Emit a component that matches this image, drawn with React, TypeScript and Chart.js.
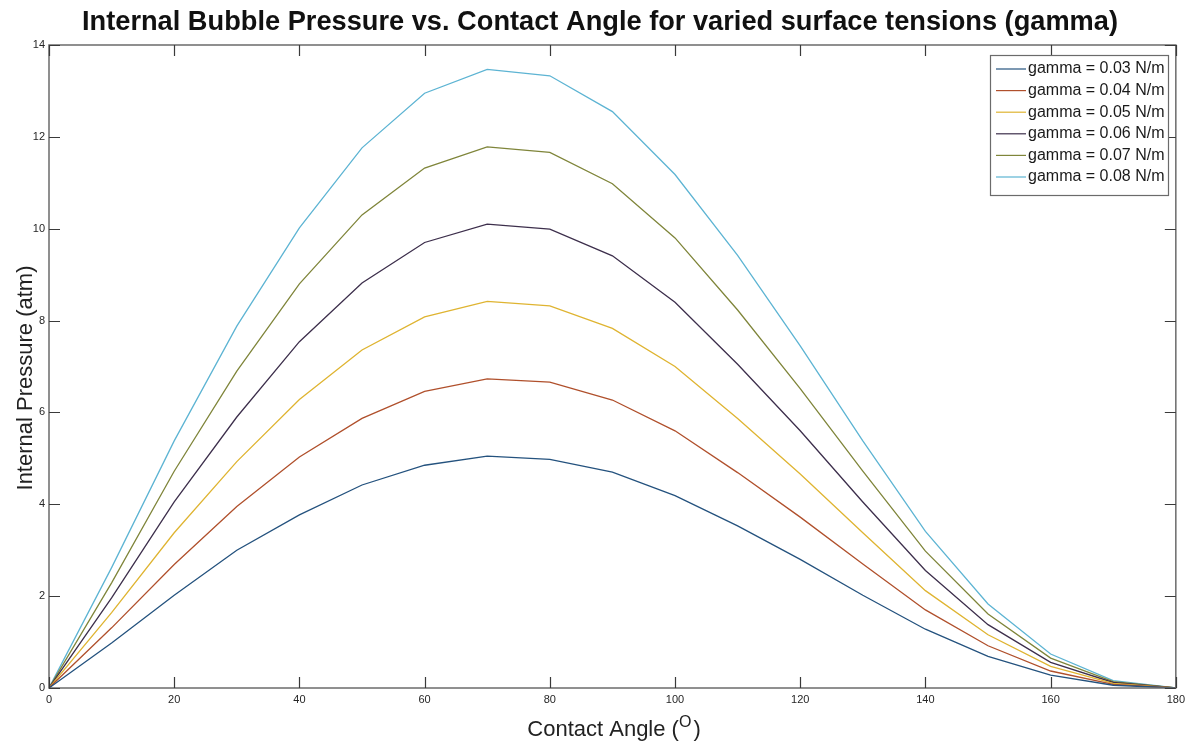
import React, { useEffect, useRef } from "react";
import { Chart, registerables } from "chart.js";

Chart.register(...registerables);

const angles = [0, 10, 20, 30, 40, 50, 60, 70, 80, 90, 100, 110, 120, 130, 140, 150, 160, 170, 180];
const gamma003 = [0, 0.98, 2.02, 3.0, 3.77, 4.42, 4.85, 5.05, 4.98, 4.7, 4.19, 3.53, 2.8, 2.02, 1.28, 0.69, 0.28, 0.06, 0];
const gamma004 = [0, 1.31, 2.69, 3.95, 5.03, 5.87, 6.46, 6.73, 6.66, 6.27, 5.6, 4.69, 3.72, 2.7, 1.7, 0.92, 0.37, 0.08, 0];
const gamma005 = [0, 1.64, 3.38, 4.93, 6.28, 7.36, 8.08, 8.42, 8.32, 7.83, 7.0, 5.87, 4.66, 3.38, 2.12, 1.16, 0.47, 0.1, 0];
const gamma006 = [0, 1.96, 4.05, 5.9, 7.54, 8.82, 9.7, 10.1, 9.99, 9.41, 8.4, 7.05, 5.6, 4.05, 2.56, 1.38, 0.56, 0.12, 0];
const gamma007 = [0, 2.29, 4.72, 6.9, 8.8, 10.3, 11.32, 11.78, 11.66, 10.98, 9.8, 8.23, 6.52, 4.72, 2.98, 1.61, 0.65, 0.14, 0];
const gamma008 = [0, 2.62, 5.38, 7.88, 10.02, 11.76, 12.95, 13.47, 13.33, 12.55, 11.18, 9.42, 7.45, 5.38, 3.41, 1.83, 0.74, 0.16, 0];

const seriesLabels = [
  "gamma = 0.03 N/m",
  "gamma = 0.04 N/m",
  "gamma = 0.05 N/m",
  "gamma = 0.06 N/m",
  "gamma = 0.07 N/m",
  "gamma = 0.08 N/m",
];
const seriesValues = [gamma003, gamma004, gamma005, gamma006, gamma007, gamma008];
const seriesColors = ["#24527e", "#b0502c", "#dfb431", "#3d2f4c", "#7f853a", "#5db4d3"];

const xTicks = [0, 20, 40, 60, 80, 100, 120, 140, 160, 180];
const yTicks = [0, 2, 4, 6, 8, 10, 12, 14];

const titleText = "Internal Bubble Pressure vs. Contact Angle for varied surface tensions (gamma)";
const xTitleMain = "Contact Angle (";
const xTitleSup = "O";
const xTitleEnd = ")";
const yTitleText = "Internal Pressure (atm)";

const FONT = "'Liberation Sans', Arial, Helvetica, sans-serif";

const decorPlugin = {
  id: "decor",
  afterDraw(chart: any) {
    const ctx = chart.ctx;
    const area = chart.chartArea;
    const xs = chart.scales.x;
    const ys = chart.scales.y;
    ctx.save();
    // frame
    ctx.strokeStyle = "#6b6b6b";
    ctx.lineWidth = 1.5;
    ctx.strokeRect(area.left, area.top, area.right - area.left, area.bottom - area.top);
    // inward ticks
    ctx.strokeStyle = "#3a3a3a";
    ctx.lineWidth = 1.2;
    const tl = 11;
    ctx.beginPath();
    for (const v of xTicks) {
      const px = Math.round(xs.getPixelForValue(v)) + 0.5;
      ctx.moveTo(px, area.bottom);
      ctx.lineTo(px, area.bottom - tl);
      ctx.moveTo(px, area.top);
      ctx.lineTo(px, area.top + tl);
    }
    for (const v of yTicks) {
      const py = Math.round(ys.getPixelForValue(v)) + 0.5;
      ctx.moveTo(area.left, py);
      ctx.lineTo(area.left + tl, py);
      ctx.moveTo(area.right, py);
      ctx.lineTo(area.right - tl, py);
    }
    ctx.stroke();

    // title
    ctx.fillStyle = "#111";
    ctx.font = `bold 28px ${FONT}`;
    ctx.textBaseline = "alphabetic";
    ctx.textAlign = "left";
    const tw = ctx.measureText(titleText).width;
    const targetW = 1036;
    const sx = targetW / tw;
    ctx.save();
    ctx.translate(82, 30);
    ctx.scale(sx, 1);
    ctx.fillText(titleText, 0, 0);
    ctx.restore();

    // x title
    ctx.fillStyle = "#222";
    ctx.font = `22px ${FONT}`;
    const w1 = ctx.measureText(xTitleMain).width;
    ctx.font = `16px ${FONT}`;
    const w2 = ctx.measureText(xTitleSup).width;
    ctx.font = `22px ${FONT}`;
    const w3 = ctx.measureText(xTitleEnd).width;
    const total = w1 + w2 + 2 + w3;
    let x0 = 614 - total / 2;
    const by = 736;
    ctx.fillText(xTitleMain, x0, by);
    ctx.font = `16px ${FONT}`;
    ctx.fillText(xTitleSup, x0 + w1, by - 9);
    ctx.font = `22px ${FONT}`;
    ctx.fillText(xTitleEnd, x0 + w1 + w2 + 2, by);

    // y title
    ctx.save();
    ctx.translate(32, 378);
    ctx.rotate(-Math.PI / 2);
    ctx.textAlign = "center";
    ctx.font = `22px ${FONT}`;
    ctx.fillText(yTitleText, 0, 0);
    ctx.restore();

    // legend
    const lx = 990, ly = 55, lw = 178, lh = 140;
    ctx.fillStyle = "#fff";
    ctx.fillRect(lx, ly, lw, lh);
    ctx.strokeStyle = "#6b6b6b";
    ctx.lineWidth = 1.2;
    ctx.strokeRect(lx + 0.5, ly + 0.5, lw, lh);
    ctx.font = `16px ${FONT}`;
    ctx.textBaseline = "middle";
    ctx.textAlign = "left";
    for (let i = 0; i < seriesLabels.length; i++) {
      const ry = ly + 14 + i * 21.6;
      ctx.strokeStyle = seriesColors[i];
      ctx.lineWidth = 1.2;
      ctx.beginPath();
      ctx.moveTo(lx + 6, ry);
      ctx.lineTo(lx + 36, ry);
      ctx.stroke();
      ctx.fillStyle = "#1a1a1a";
      ctx.fillText(seriesLabels[i], lx + 38, ry);
    }
    ctx.restore();
  },
};

export default function App() {
  const ref = useRef<HTMLCanvasElement | null>(null);
  useEffect(() => {
    document.body.style.margin = "0";
    const canvas = ref.current;
    if (!canvas) return;
    const chart = new Chart(canvas, {
      type: "line",
      data: {
        datasets: seriesValues.map((vals, i) => ({
          label: seriesLabels[i],
          data: angles.map((a, j) => ({ x: a, y: vals[j] })),
          borderColor: seriesColors[i],
          backgroundColor: seriesColors[i],
          borderWidth: 1.3,
          pointRadius: 0,
          tension: 0,
          fill: false,
        })),
      },
      options: {
        responsive: false,
        animation: false,
        events: [],
        layout: { padding: { top: 45, right: 12, left: 0, bottom: 0 } },
        plugins: {
          legend: { display: false },
          title: { display: false },
          tooltip: { enabled: false },
        },
        scales: {
          x: {
            type: "linear",
            min: 0,
            max: 180,
            afterBuildTicks: (s: any) => {
              s.ticks = xTicks.map((v) => ({ value: v }));
            },
            afterFit: (s: any) => {
              s.height = 54;
            },
            grid: { display: false, drawTicks: false },
            border: { display: false },
            ticks: {
              padding: 5,
              color: "#262626",
              font: { size: 11, family: FONT },
              maxRotation: 0,
              autoSkip: false,
            },
          },
          y: {
            type: "linear",
            min: 0,
            max: 14,
            afterBuildTicks: (s: any) => {
              s.ticks = yTicks.map((v) => ({ value: v }));
            },
            afterFit: (s: any) => {
              s.width = 49;
            },
            grid: { display: false, drawTicks: false },
            border: { display: false },
            ticks: {
              padding: 4,
              color: "#262626",
              font: { size: 11, family: FONT },
              autoSkip: false,
            },
          },
        },
      },
      plugins: [decorPlugin],
    } as any);
    return () => chart.destroy();
  }, []);
  return (
    <div style={{ position: "absolute", left: 0, top: 0, width: 1190, height: 742, background: "#fff" }}>
      <canvas ref={ref} width={1190} height={742} style={{ display: "block" }} />
    </div>
  );
}
